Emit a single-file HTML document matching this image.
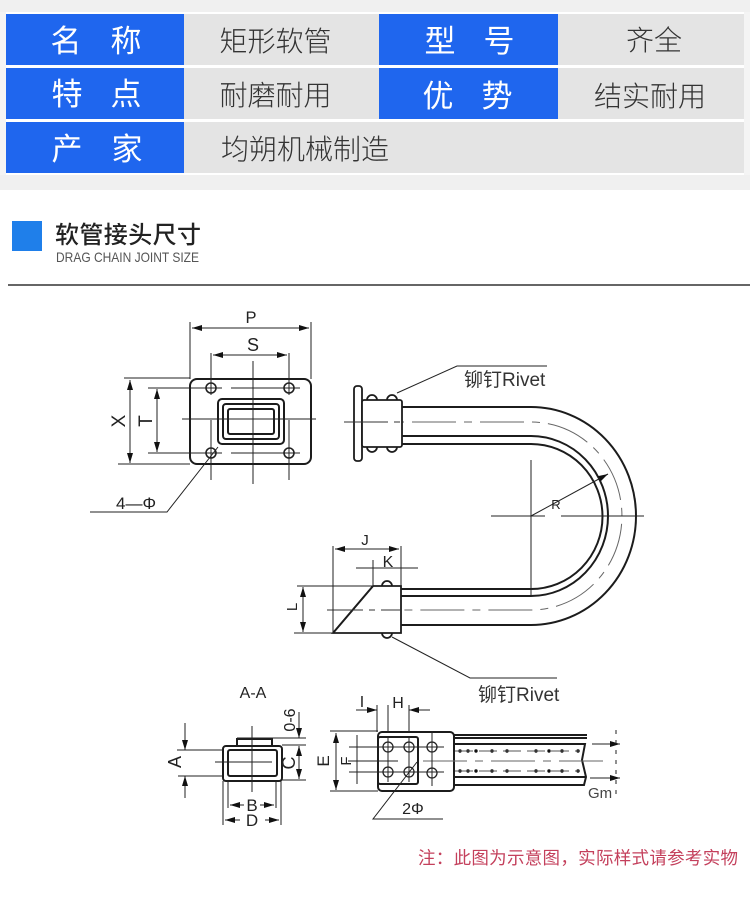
<!DOCTYPE html>
<html><head><meta charset="utf-8"><style>
html,body{margin:0;padding:0;background:#fff;width:750px;height:902px;overflow:hidden}
svg{display:block;filter:blur(0.35px)}
text{font-family:"Liberation Sans","Noto Sans CJK SC",sans-serif}
.c{font-family:"Noto Sans CJK SC","Liberation Sans",sans-serif;text-anchor:middle}
.w{fill:#fff;font-size:31px}
.d{fill:#333;font-size:28px;font-weight:300}
.l{fill:#222;font-size:15px;text-anchor:middle}
.n{fill:none;stroke:#222;stroke-width:1}
.b{fill:none;stroke:#1c1c1c;stroke-width:2}
</style></head><body>
<svg xmlns="http://www.w3.org/2000/svg" width="750" height="902" viewBox="0 0 750 902">
<defs>
<marker id="a" viewBox="0 0 10 6" refX="10" refY="3" markerWidth="10" markerHeight="6" markerUnits="userSpaceOnUse" orient="auto-start-reverse"><path d="M0 0L10 3L0 6Z" fill="#111"/></marker>
</defs>
<rect width="750" height="190" fill="#f0f0f0"/>
<rect x="0" y="12" width="750" height="163" fill="#fff"/>
<rect x="744" y="12" width="6" height="163" fill="#f4f4f4"/>
<rect x="0" y="12" width="6" height="163" fill="#f4f4f4"/>
<g fill="#e4e4e4"><rect x="184" y="14" width="195" height="51"/><rect x="558" y="14" width="186" height="51"/><rect x="184" y="68" width="195" height="51"/><rect x="558" y="68" width="186" height="51"/><rect x="184" y="122" width="560" height="51"/></g>
<g fill="#1f66ee"><rect x="6" y="14" width="178" height="51"/><rect x="379" y="14" width="179" height="51"/><rect x="6" y="68" width="178" height="51"/><rect x="379" y="68" width="179" height="51"/><rect x="6" y="122" width="178" height="51"/></g>
<g class="c">
<text class="c w" x="66" y="52">名</text><text class="c w" x="126" y="52">称</text>
<text class="c w" x="440" y="52">型</text><text class="c w" x="499" y="52">号</text>
<text class="c w" x="67" y="105">特</text><text class="c w" x="126" y="105">点</text>
<text class="c w" x="438" y="107">优</text><text class="c w" x="497" y="107">势</text>
<text class="c w" x="67" y="160">产</text><text class="c w" x="127" y="160">家</text>
<text class="c d" x="275.5" y="51">矩形软管</text><text class="c d" x="654" y="50">齐全</text>
<text class="c d" x="275.5" y="105">耐磨耐用</text><text class="c d" x="650" y="106">结实耐用</text>
<text class="c d" x="305" y="159">均朔机械制造</text>
</g>
<rect x="12" y="221" width="30" height="30" fill="#1f7fea"/>
<text x="55" y="243" font-size="24" font-weight="500" fill="#222" textLength="146" style="font-family:'Noto Sans CJK SC',sans-serif">软管接头尺寸</text>
<text x="56" y="262" font-size="14" fill="#555" textLength="143" lengthAdjust="spacingAndGlyphs">DRAG CHAIN JOINT SIZE</text>
<rect x="8" y="284" width="742" height="2" fill="#666"/>

<!-- Flange front view -->
<g>
<rect class="b" x="190" y="379" width="121" height="85" rx="7"/>
<rect class="b" x="218" y="399" width="66" height="45" rx="4"/>
<rect class="b" x="223" y="404" width="56" height="35" rx="3"/>
<rect class="b" x="228" y="409" width="46" height="25" rx="2"/>
<g class="n">
<circle cx="211" cy="388" r="5" stroke-width="1.6"/><circle cx="289" cy="388" r="5" stroke-width="1.6"/><circle cx="211" cy="453" r="5" stroke-width="1.6"/><circle cx="289" cy="453" r="5" stroke-width="1.6"/>
<path d="M148 388H222M231 388H300M148 453H222M231 453H300"/>
<path d="M182 419H316M253 361V484M211 353V395M211 420V480M289 353V395M289 420V480"/>
<path d="M190 322V379M311 322V379"/>
<path d="M124 378H190M118 464H190"/>
<path d="M192 328H309" marker-start="url(#a)" marker-end="url(#a)"/>
<path d="M213 355H287" marker-start="url(#a)" marker-end="url(#a)"/>
<path d="M130 380V463" marker-start="url(#a)" marker-end="url(#a)"/>
<path d="M157 389V452" marker-start="url(#a)" marker-end="url(#a)"/>
<path d="M90 512H167L218 447"/>
</g>
<text class="l" x="251" y="323" style="font-size:16.5px">P</text>
<text class="l" x="253" y="351" style="font-size:18px">S</text>
<text class="l" transform="translate(125,421) rotate(-90)" style="font-size:19px">X</text>
<text class="l" transform="translate(152,421) rotate(-90)" style="font-size:19px">T</text>
<text class="l" x="136" y="509" style="font-size:17px">4—Φ</text>
</g>

<!-- U hose -->
<g>
<path class="b" d="M402 407H531A105 109 0 0 1 531 625H401" stroke-width="1.8"/>
<path class="b" d="M402 436H531A77 80 0 0 1 531 596H401" stroke-width="1.8"/>
<path class="b" d="M402 444H531A71 72 0 0 1 531 589H401" stroke-width="1.8"/>
<path d="M344 422H531A91 94 0 0 1 531 610H327" fill="none" stroke="#666" stroke-width="1" stroke-dasharray="44 8 8 8"/>
<g fill="#fff" stroke="#1c1c1c" stroke-width="1.8">
<ellipse cx="372" cy="400" rx="5" ry="5"/><ellipse cx="392" cy="400" rx="5" ry="5"/><ellipse cx="372" cy="447" rx="5" ry="5"/><ellipse cx="392" cy="447" rx="5" ry="5"/>
<rect x="354" y="386" width="8" height="75" rx="3"/>
<rect x="362" y="400" width="40" height="47" rx="2"/>
<ellipse cx="387" cy="586" rx="5" ry="5"/><ellipse cx="387" cy="633" rx="5" ry="5"/>
<path d="M373 586H401V633H333Z"/>
<path d="M373 586L333 633"/>
</g>
<path d="M344 422H402" fill="none" stroke="#333" stroke-width="1" stroke-dasharray="44 6 6 6"/>
<path d="M327 610H400" fill="none" stroke="#333" stroke-width="1" stroke-dasharray="36 6 6 6"/>
<g class="n">
<path d="M397 393L457 366H547"/>
<path d="M392 637L470 678H557"/>
<path d="M531 460V596M491 516H545M561 516H644"/>
<path d="M531 516L608 474" marker-end="url(#a)"/>
<path d="M333 546V633M401 546V586"/>
<path d="M335 549H399" marker-start="url(#a)" marker-end="url(#a)"/>
<path d="M356 568H418M373 560V586"/>
<path d="M297 586H373M294 633H333"/>
<path d="M303 587V632" marker-start="url(#a)" marker-end="url(#a)"/>
</g>
<text x="464" y="386" font-size="19" fill="#333">铆钉Rivet</text>
<text x="478" y="701" font-size="19" fill="#333">铆钉Rivet</text>
<text class="l" x="556" y="509" style="font-size:13px">R</text>
<text class="l" x="365" y="545" style="font-size:15px">J</text>
<text class="l" x="388" y="567" style="font-size:16px">K</text>
<text class="l" transform="translate(297,607) rotate(-90)" style="font-size:15px">L</text>
</g>

<!-- A-A section -->
<g>
<text class="l" x="253" y="698" style="font-size:16px">A-A</text>
<path class="b" d="M237 746V739H272V746"/>
<rect class="b" x="223" y="746" width="59" height="35" rx="3"/>
<rect class="b" x="228" y="750" width="49" height="26" rx="2"/>
<g class="n">
<path d="M252 726V792M215 762H272"/>
<path d="M177 750H223M178 776H223"/>
<path d="M185 723V750" marker-end="url(#a)"/><path d="M185 798V776" marker-end="url(#a)"/>
<path d="M237 738H306M282 745H306M282 780H306"/>
<path d="M299 712V738" marker-end="url(#a)"/><path d="M299 746V779" marker-start="url(#a)" marker-end="url(#a)"/>
<path d="M228 781V808M276 781V808M223 781V825M281 781V825"/>
<path d="M244 805H230" marker-end="url(#a)"/><path d="M260 805H274" marker-end="url(#a)"/>
<path d="M240 820H225" marker-end="url(#a)"/><path d="M265 820H279" marker-end="url(#a)"/>
</g>
<text class="l" x="252" y="811" style="font-size:17px">B</text>
<text class="l" x="252" y="826" style="font-size:17px">D</text>
<text class="l" transform="translate(181,762) rotate(-90)" style="font-size:18px">A</text>
<text class="l" transform="translate(295,763) rotate(-90)" style="font-size:18px">C</text>
<text class="l" transform="translate(295,720) rotate(-90)" style="font-size:16px">0-6</text>
</g>

<!-- Side view -->
<g>
<path class="b" d="M454 735H587M454 738H587" stroke-width="1.3"/>
<path class="b" d="M454 744H585L582 760L586 777L584 785H454M454 777H586" stroke-width="1.5"/>
<rect class="b" x="378" y="732" width="76" height="59" rx="4"/>
<rect class="b" x="378" y="737" width="40" height="47" rx="2"/>
<g fill="none" stroke="#222" stroke-width="1.3">
<circle cx="388" cy="747" r="5"/><circle cx="409" cy="747" r="5"/><circle cx="388" cy="772" r="5"/><circle cx="409" cy="772" r="5"/><circle cx="432" cy="747" r="5"/><circle cx="432" cy="773" r="5"/>
</g>
<g fill="#111">
<circle cx="460" cy="751" r="1.7"/><circle cx="468" cy="751" r="1.7"/><circle cx="476" cy="751" r="1.7"/><circle cx="492" cy="751" r="1.7"/><circle cx="507" cy="751" r="1.7"/><circle cx="536" cy="751" r="1.7"/><circle cx="549" cy="751" r="1.7"/><circle cx="562" cy="751" r="1.7"/><circle cx="578" cy="751" r="1.7"/>
<circle cx="460" cy="771" r="1.7"/><circle cx="468" cy="771" r="1.7"/><circle cx="476" cy="771" r="1.7"/><circle cx="492" cy="771" r="1.7"/><circle cx="507" cy="771" r="1.7"/><circle cx="536" cy="771" r="1.7"/><circle cx="549" cy="771" r="1.7"/><circle cx="562" cy="771" r="1.7"/><circle cx="578" cy="771" r="1.7"/>
</g>
<g class="n">
<path d="M455 751H580M455 771H580" stroke-dasharray="18 6" stroke="#555"/>
<path d="M423 761H607" stroke="#666" stroke-dasharray="44 8 8 8"/>
<path d="M349 747H444M349 772H444M348 761H398"/>
<path d="M388 737V782M409 737V782M432 731V786"/>
<path d="M377 705V732M388 705V732M409 705V732"/>
<path d="M356 710H377" marker-end="url(#a)"/><path d="M430 710H409" marker-end="url(#a)"/>
<path d="M330 731H378M330 791H378"/>
<path d="M336 733V790" marker-start="url(#a)" marker-end="url(#a)"/>
<path d="M357 735V784"/>
<path d="M592 744H620" marker-end="url(#a)"/><path d="M590 778H620" marker-end="url(#a)"/>
<path d="M616 730V800" stroke-dasharray="4 6"/>
<path d="M443 819H373L417 762"/>
</g>
<text class="l" x="362" y="707" style="font-size:16px">I</text>
<text class="l" x="398" y="708" style="font-size:16px">H</text>
<text class="l" transform="translate(329,761) rotate(-90)" style="font-size:17px">E</text>
<text class="l" transform="translate(351,761) rotate(-90)" style="font-size:15px">F</text>
<text class="l" x="413" y="814" style="font-size:16px">2Φ</text>
<text x="588" y="798" font-size="15" fill="#444">Gm</text>
</g>

<text x="418" y="864" font-size="17.5" fill="#c4405c" textLength="320" style="font-family:'Noto Sans CJK SC',sans-serif">注：此图为示意图，实际样式请参考实物</text>
</svg>
</body></html>
